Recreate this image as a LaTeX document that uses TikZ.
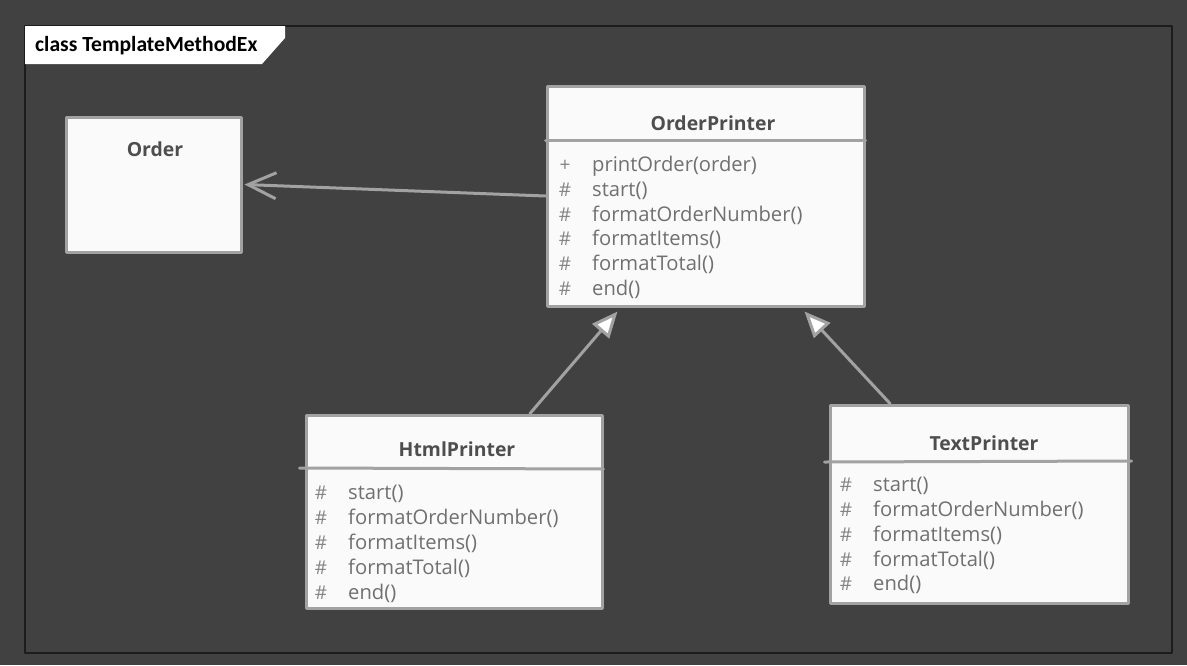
\documentclass[tikz,border=0pt]{standalone}
\usepackage{fontspec}
\setmainfont{Open Sans}
\newfontfamily\tabfont{Carlito}
\usetikzlibrary{arrows.meta}
\definecolor{canvas}{HTML}{414141}
\definecolor{framec}{HTML}{1C1C1C}
\definecolor{umlline}{HTML}{A2A2A2}
\definecolor{umlfill}{HTML}{FAFAFA}
\definecolor{umltext}{HTML}{707070}
\definecolor{umltitle}{HTML}{4E4E4E}

\begin{document}
\begin{tikzpicture}[x=1pt,y=-1pt,line join=round,line cap=round,
    umlbox/.style={draw=umlline,fill=umlfill,line width=3pt,inner sep=0pt},
    title/.style={font=\fontsize{19.4}{21}\selectfont\bfseries,text=umltitle,inner sep=0pt},
    vis/.style={font=\fontsize{19}{24}\selectfont,text=umltext!85,anchor=base,inner sep=0pt},
    member/.style={font=\fontsize{20.2}{24}\selectfont,text=umltext,anchor=base west,inner sep=0pt},
    divider/.style={draw=umlline,line width=3pt},
    assoc/.style={draw=umlline,line width=3pt,
      -{Straight Barb[length=28pt,width=26pt,line width=3pt]}},
    generalize/.style={draw=umlline,line width=3pt,
      -{Triangle[open,fill=white,length=26pt,width=22pt,line width=3pt]}}]
  % ---------------- background and diagram frame
  \useasboundingbox[fill=canvas] (0,0) rectangle (1187,665);
  \draw[framec,line width=1.5pt] (25,26) rectangle (1172,653);
  \fill[white] (25,26) -- (285,26) -- (285,38) -- (262,64) -- (25,64) -- cycle;
  \node[font=\tabfont\fontsize{21.6}{23}\selectfont\bfseries,anchor=west,inner sep=0pt] (frametitle)
    at (35,46) {class TemplateMethodEx};
  % ---------------- Order
  \node[umlbox,minimum width=175pt,minimum height=135pt] (order) at (153.5,184.5) {};
  \node[title] (ordertitle) at (155,149) {Order};
  % ---------------- OrderPrinter (abstract base)
  \node[umlbox,minimum width=317pt,minimum height=220pt] (op) at (705.5,196) {};
  \node[title] (optitle) at (713,123) {OrderPrinter};
  \draw[divider] (op.west |- 0,140) -- (op.east |- 0,140);
  \node[vis] (opv1) at (565,171.5) {+};
  \node[member] (opm1) at (592,171.5) {printOrder(order)};
  \node[vis] (opv2) at (565,196.5) {\#};
  \node[member] (opm2) at (592,196.5) {start()};
  \node[vis] (opv3) at (565,221.5) {\#};
  \node[member] (opm3) at (592,221.5) {formatOrderNumber()};
  \node[vis] (opv4) at (565,245.5) {\#};
  \node[member] (opm4) at (592,245.5) {formatItems()};
  \node[vis] (opv5) at (565,270.5) {\#};
  \node[member] (opm5) at (592,270.5) {formatTotal()};
  \node[vis] (opv6) at (565,295.5) {\#};
  \node[member] (opm6) at (592,295.5) {end()};
  % ---------------- HtmlPrinter
  \node[umlbox,minimum width=296pt,minimum height=193pt] (html) at (454,511.5) {};
  \node[title] (htmltitle) at (457,449) {HtmlPrinter};
  \draw[divider] ([xshift=-5pt]html.west |- 0,468) -- (html.east |- 0,469);
  \node[vis] (htmlv1) at (321,499.5) {\#};
  \node[member] (htmlm1) at (348,499.5) {start()};
  \node[vis] (htmlv2) at (321,524.5) {\#};
  \node[member] (htmlm2) at (348,524.5) {formatOrderNumber()};
  \node[vis] (htmlv3) at (321,549.5) {\#};
  \node[member] (htmlm3) at (348,549.5) {formatItems()};
  \node[vis] (htmlv4) at (321,574.5) {\#};
  \node[member] (htmlm4) at (348,574.5) {formatTotal()};
  \node[vis] (htmlv5) at (321,599.5) {\#};
  \node[member] (htmlm5) at (348,599.5) {end()};
  % ---------------- TextPrinter
  \node[umlbox,minimum width=298pt,minimum height=198pt] (text) at (979,504) {};
  \node[title] (texttitle) at (984,443) {TextPrinter};
  \draw[divider] ([xshift=-4pt]text.west |- 0,462) -- ([xshift=2pt]text.east |- 0,461);
  \node[vis] (textv1) at (846,491.5) {\#};
  \node[member] (textm1) at (873,491.5) {start()};
  \node[vis] (textv2) at (846,516.5) {\#};
  \node[member] (textm2) at (873,516.5) {formatOrderNumber()};
  \node[vis] (textv3) at (846,541.5) {\#};
  \node[member] (textm3) at (873,541.5) {formatItems()};
  \node[vis] (textv4) at (846,566.5) {\#};
  \node[member] (textm4) at (873,566.5) {formatTotal()};
  \node[vis] (textv5) at (846,590.5) {\#};
  \node[member] (textm5) at (873,590.5) {end()};
  % ---------------- relations
  \draw[assoc] (op.west) -- ([xshift=2pt]order.east);
  \draw[generalize] ([xshift=76pt]html.north) -- ([xshift=-88pt,yshift=-4pt]op.south);
  \draw[generalize] ([xshift=-89pt]text.north) -- ([xshift=99pt,yshift=-4pt]op.south);
\end{tikzpicture}
\end{document}
